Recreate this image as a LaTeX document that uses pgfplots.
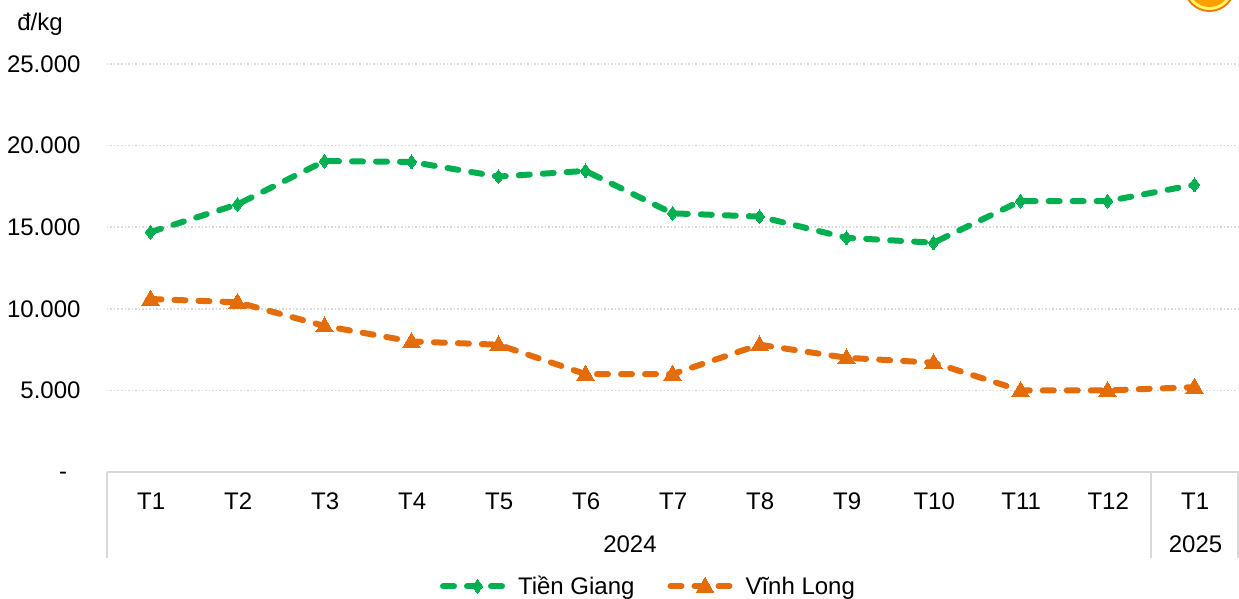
\documentclass[border=0pt]{standalone}
\usepackage{fontspec}
\setmainfont{Liberation Sans}
\usepackage{pgfplots}
\pgfplotsset{compat=1.18}
\definecolor{tgiang}{HTML}{00B050}
\definecolor{vlong}{HTML}{E46C0A}
\definecolor{gridc}{HTML}{D9D9D9}
\tikzset{lgdash/.style={line width=6pt,line cap=round,dash pattern=on 11pt off 13pt}}
\begin{document}
\begin{tikzpicture}[x=1pt,y=1pt]
\useasboundingbox (0,0) rectangle (1239,598);
\clip (0,0) rectangle (1239,598);
% orange slice in the top corner
\fill[color=orange!95!black] (1209.5,612) circle (26);
\fill[color=yellow!60!white] (1209.5,612) circle (24);
\fill[color=orange!75!yellow] (1209.5,612) circle (21);
\begin{axis}[
  at={(107pt,126pt)}, anchor=south west,
  scale only axis, width=1131pt, height=408pt,
  clip=false,
  scaled y ticks=false,
  xmin=-0.5, xmax=12.5, ymin=0, ymax=25000,
  font=\fontsize{24pt}{28pt}\selectfont,
  axis x line*=bottom, axis y line*=left,
  x axis line style={draw=gridc,line width=2pt},
  y axis line style={draw=none},
  tick style={draw=none},
  ytick={0,5000,10000,15000,20000,25000},
  yticklabels={\raisebox{-3pt}[8pt][8pt]{-}\phantom{0},5.000,10.000,15.000,20.000,25.000},
  yticklabel style={anchor=east,xshift=-23pt},
  xtick={0,...,12},
  xticklabels={T1,T2,T3,T4,T5,T6,T7,T8,T9,T10,T11,T12,T1},
  xticklabel style={yshift=-17pt,xshift=0.7pt},
  ymajorgrids,
  major grid style={draw=gridc,line width=1.5pt,dash pattern=on 1.5pt off 2pt},
  legend columns=2,
  legend style={draw=none,fill=none,at={(0.5,-0.245)},anchor=north,xshift=-24pt,
    font=\fontsize{24pt}{28pt}\selectfont,
    /tikz/every odd column/.append style={column sep=1pt},
    /tikz/every even column/.append style={column sep=31pt}},
  legend image code/.code={
    \draw[#1,mark=none] plot coordinates {(-3pt,0pt) (66pt,0pt)};
    \draw[#1] plot coordinates {(31.5pt,0pt)};
  },
]
\addplot[tgiang,lgdash,mark=diamond*,mark size=7pt,mark options={solid,line width=0pt,fill=tgiang}]
  coordinates {(0,14700)(1,16400)(2,19050)(3,19000)(4,18100)(5,18450)(6,15850)(7,15650)(8,14350)(9,14050)(10,16600)(11,16600)(12,17600)};
\addlegendentry{Tiền Giang}
\addplot[vlong,lgdash,mark=triangle*,mark size=10pt,mark options={solid,line width=0pt,fill=vlong,yshift=-1pt}]
  coordinates {(0,10600)(1,10400)(2,8950)(3,8000)(4,7800)(5,6000)(6,6000)(7,7800)(8,7000)(9,6700)(10,5000)(11,5000)(12,5200)};
\addlegendentry{Vĩnh Long}
% group separators of the two-level category axis
\draw[gridc,line width=2pt] (axis cs:-0.5,0) -- (axis cs:-0.5,-5270);
\draw[gridc,line width=2pt] (axis cs:11.5,0) -- (axis cs:11.5,-5270);
\draw[gridc,line width=2pt] (axis cs:12.5,0) -- (axis cs:12.5,-5270);
\node[anchor=center] at (axis cs:5.5,0) [yshift=-72pt,xshift=1pt] {2024};
\node[anchor=center] at (axis cs:12,0) [yshift=-72pt,xshift=1pt] {2025};
\node[anchor=center] at (axis cs:-0.5,25000) [xshift=-67pt,yshift=40pt] {đ/kg};
\end{axis}
\end{tikzpicture}
\end{document}
